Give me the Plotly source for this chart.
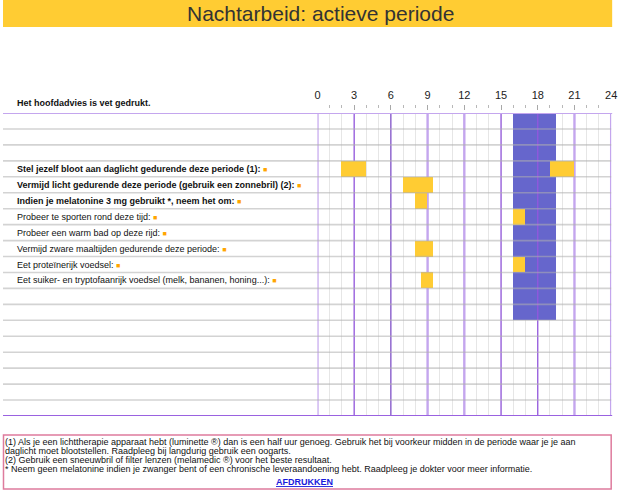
import plotly.graph_objects as go

W, H = 630, 504

# ---------------- data ----------------
hour_ticks = [0, 3, 6, 9, 12, 15, 18, 21, 24]
header_note = "Het hoofdadvies is vet gedrukt."
row_labels = [
    "", "", "",
    "Stel jezelf bloot aan daglicht gedurende deze periode (1):",
    "Vermijd licht gedurende deze periode (gebruik een zonnebril) (2):",
    "Indien je melatonine 3 mg gebruikt *, neem het om:",
    "Probeer te sporten rond deze tijd:",
    "Probeer een warm bad op deze rijd:",
    "Vermijd zware maaltijden gedurende deze periode:",
    "Eet proteïnerijk voedsel:",
    "Eet suiker- en tryptofaanrijk voedsel (melk, bananen, honing...):",
    "", "", "", "", "", "", "", "",
]
row_bold = [False, False, False, True, True, True, False, False, False, False, False,
            False, False, False, False, False, False, False, False]

# active period (blue), per row
active_rows = [0, 1, 2, 3, 4, 5, 6, 7, 8, 9, 10, 11, 12]
active_start = [16, 16, 16, 16, 16, 16, 16, 16, 16, 16, 16, 16, 16]
active_end = [19.5, 19.5, 19.5, 19.5, 19.5, 19.5, 19.5, 19.5, 19.5, 19.5, 19.5, 19.5, 19.5]

# advice periods (yellow)
advice_rows = [3, 3, 4, 5, 6, 8, 9, 10]
advice_start = [2, 19, 7, 8, 16, 8, 16, 8.5]
advice_end = [4, 21, 9.5, 9, 17, 9.5, 17, 9.5]

title_text = "Nachtarbeid: actieve periode"
footer_lines = [
    "(1) Als je een lichttherapie apparaat hebt (luminette ®) dan is een half uur genoeg. Gebruik het bij voorkeur midden in de periode waar je je aan",
    "daglicht moet blootstellen. Raadpleeg bij langdurig gebruik een oogarts.",
    "(2) Gebruik een sneeuwbril of filter lenzen (melamedic ®) voor het beste resultaat.",
    "* Neem geen melatonine indien je zwanger bent of een chronische leveraandoening hebt. Raadpleeg je dokter voor meer informatie.",
]
print_label = "AFDRUKKEN"

# ---------------- helpers ----------------
FONT = "Liberation Sans, Arial, Helvetica, sans-serif"
n_rows = len(row_labels)


def px(xp):
    return xp / W


def py(yp):
    return 1 - yp / H


GRID_TOP, GRID_BOT = 113, 416
X0_PX, X24_PX = 319, 617

fig = go.Figure()

# blue active period
fig.add_trace(go.Bar(
    y=active_rows,
    x=[e - s for s, e in zip(active_start, active_end)],
    base=active_start,
    orientation="h", width=1,
    marker=dict(color="#6666CC", line=dict(width=0)),
    xaxis="x", yaxis="y", hoverinfo="skip", showlegend=False,
))

# major vertical lines (above blue, below yellow)
light = dict(color="#c4a6ee", width=2.4)
dark = dict(color="#9457de", width=1.3)
darker = dict(color="#7b48c9", width=1.2)
for h in hour_ticks:
    if h in (0, 9, 12, 21, 24):
        st = light
    elif h == 6:
        st = darker
    else:
        st = dark
    fig.add_trace(go.Scatter(
        x=[h, h], y=[-0.5, n_rows - 0.5], mode="lines", line=st,
        cliponaxis=False, hoverinfo="skip", showlegend=False,
        xaxis="x", yaxis="y",
    ))

# yellow advice bars on overlaid subplot
fig.add_trace(go.Bar(
    y=advice_rows,
    x=[e - s for s, e in zip(advice_start, advice_end)],
    base=advice_start,
    orientation="h", width=1,
    marker=dict(color="#FFCC33", line=dict(width=0)),
    xaxis="x2", yaxis="y2", hoverinfo="skip", showlegend=False,
))

shapes = []
# title band
shapes.append(dict(type="rect", xref="paper", yref="paper",
                   x0=0, x1=px(618), y0=py(0), y1=py(27),
                   fillcolor="#FFCC33", line=dict(width=0), layer="below"))
# row lines
for b in range(1, n_rows):
    shapes.append(dict(type="line", xref="paper", yref="y",
                       x0=0, x1=px(X24_PX), y0=b - 0.5, y1=b - 0.5,
                       line=dict(color="rgba(175,175,175,0.55)", width=1.6),
                       layer="above"))
# top / bottom borders
shapes.append(dict(type="line", xref="paper", yref="y",
                   x0=0, x1=px(X24_PX + 1), y0=-0.5, y1=-0.5,
                   line=dict(color="#c4a6ee", width=2), layer="above"))
shapes.append(dict(type="line", xref="paper", yref="y",
                   x0=0, x1=px(X24_PX + 1), y0=n_rows - 0.5, y1=n_rows - 0.5,
                   line=dict(color="#9a62e0", width=2), layer="above"))
# footer box
shapes.append(dict(type="rect", xref="paper", yref="paper",
                   x0=px(0.5), x1=px(617), y0=py(435), y1=py(489),
                   line=dict(color="#de7b9d", width=1.5), fillcolor="rgba(0,0,0,0)"))

annotations = []
annotations.append(dict(text=title_text, xref="paper", yref="paper",
                        x=px(322), y=py(13.5), xanchor="center", yanchor="middle",
                        showarrow=False, font=dict(family=FONT, size=21, color="#333333")))
annotations.append(dict(text="<b>" + header_note + "</b>", xref="paper", yref="paper",
                        x=px(12), y=py(103.5), xanchor="left", yanchor="middle",
                        showarrow=False, font=dict(family=FONT, size=9, color="#111111")))
for i, (lab, bold) in enumerate(zip(row_labels, row_bold)):
    if not lab:
        continue
    txt = ("<b>" + lab + "</b>") if bold else lab
    txt += ' <span style="color:#FFA500;font-size:7px">■</span>'
    annotations.append(dict(text=txt, xref="paper", yref="y",
                            x=px(12), y=i, xanchor="left", yanchor="middle",
                            showarrow=False, font=dict(family=FONT, size=9, color="#111111")))
footer_y = [441.7, 450.7, 459.7, 468.5]
for line, yy in zip(footer_lines, footer_y):
    annotations.append(dict(text=line, xref="paper", yref="paper",
                            x=px(0.5), y=py(yy), xanchor="left", yanchor="middle",
                            showarrow=False, font=dict(family=FONT, size=9, color="#111111")))
annotations.append(dict(text="<b><u>" + print_label + "</u></b>", xref="paper", yref="paper",
                        x=px(306), y=py(481.5), xanchor="center", yanchor="middle",
                        showarrow=False, font=dict(family=FONT, size=9, color="#1a1adb")))

fig.update_layout(
    width=W, height=H,
    margin=dict(l=0, r=0, t=0, b=0, pad=0),
    paper_bgcolor="white", plot_bgcolor="white",
    barmode="overlay", bargap=0,
    showlegend=False,
    xaxis=dict(
        domain=[px(X0_PX), px(X24_PX)], range=[0, 24],
        side="top", anchor="free", position=py(104),
        tickmode="linear", tick0=0, dtick=3,
        ticks="inside", ticklen=5, tickwidth=1, tickcolor="#a8a8a8",
        ticklabelstandoff=3,
        showgrid=True, gridcolor="#e6e6e6", gridwidth=1,
        minor=dict(dtick=1, tick0=0, ticks="inside", ticklen=3, tickwidth=1,
                   tickcolor="#b8b8b8", showgrid=True, gridcolor="#e6e6e6", gridwidth=1),
        showline=False, zeroline=False,
        tickfont=dict(family=FONT, size=11, color="#222222"),
        fixedrange=True,
    ),
    yaxis=dict(
        domain=[py(GRID_BOT), py(GRID_TOP)], range=[n_rows - 0.5, -0.5],
        visible=False, showgrid=False, zeroline=False, fixedrange=True,
    ),
    xaxis2=dict(overlaying="x", range=[0, 24], anchor="y2", visible=False,
                showgrid=False, zeroline=False, fixedrange=True),
    yaxis2=dict(overlaying="y", range=[n_rows - 0.5, -0.5], anchor="x2", visible=False,
                showgrid=False, zeroline=False, fixedrange=True),
    shapes=shapes,
    annotations=annotations,
)

fig.write_html(
    "out.html",
    config={"displayModeBar": False},
    post_script="document.body.style.margin='0';document.body.style.overflow='hidden';",
)
